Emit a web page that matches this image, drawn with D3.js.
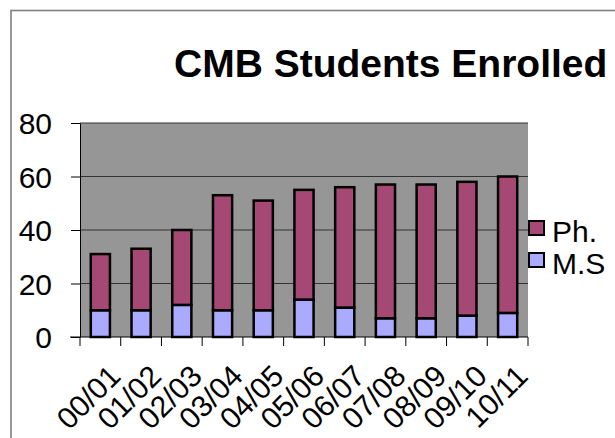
<!DOCTYPE html>
<html lang="en">
<head>
<meta charset="UTF-8">
<title>CMB Students Enrolled</title>
<style>
  body { margin: 0; background: #fff; }
  svg text { font-family: "Liberation Sans", Arial, sans-serif; fill: #000; }
</style>
</head>
<body>
<svg class="chart" width="615" height="438"></svg>
<script src="https://d3js.org/d3.v7.min.js"></script>
<script>
// years on the x axis, students per programme
var years = ["00/01", "01/02", "02/03", "03/04", "04/05", "05/06", "06/07", "07/08", "08/09", "09/10", "10/11"];
var ms  = [10, 10, 12, 10, 10, 14, 11, 7, 7, 8, 9];
var phd = [21, 23, 28, 43, 41, 41, 45, 50, 50, 50, 51];
var yTicks = [0, 20, 40, 60, 80];

var plotLeft = 80, plotRight = 528, plotTop = 123, plotBottom = 337;

var svg = d3.select(".chart");

// outer chart border (runs off the right and bottom of the picture)
svg.append("rect")
    .attr("x", 11).attr("y", 10.5)
    .attr("width", 700).attr("height", 500)
    .attr("fill", "none").attr("stroke", "#808080").attr("stroke-width", 1.6);

svg.append("text")
    .attr("x", 174).attr("y", 77)
    .attr("font-size", 39).attr("font-weight", "bold")
    .text("CMB Students Enrolled");

var x = d3.scaleBand().domain(years).range([plotLeft, plotRight]).paddingInner(0.53).paddingOuter(0.265);
var y = d3.scaleLinear().domain([0, 80]).range([plotBottom, plotTop]);

// plot background
svg.append("rect")
    .attr("x", plotLeft).attr("y", plotTop)
    .attr("width", plotRight - plotLeft).attr("height", plotBottom - plotTop)
    .attr("fill", "#969696");

// gridlines
svg.append("g").selectAll("line")
    .data(yTicks.slice(1))
    .enter().append("line")
    .attr("x1", plotLeft).attr("x2", plotRight)
    .attr("y1", function(d) { return y(d); }).attr("y2", function(d) { return y(d); })
    .attr("stroke", "#333").attr("stroke-width", 1.2);

// y axis
var yAxis = svg.append("g")
    .attr("transform", "translate(" + plotLeft + ",0)")
    .call(d3.axisLeft(y).tickValues(yTicks).tickSize(9).tickPadding(19).tickSizeOuter(0));
yAxis.select(".domain").attr("stroke", "#000");
yAxis.selectAll(".tick line").attr("stroke", "#000");
yAxis.selectAll(".tick text").attr("font-size", 30).attr("dy", "0.36em");

// stacked bars
var stacked = years.map(function(yr, i) { return { year: yr, ms: ms[i], phd: phd[i] }; });
var series = d3.stack().keys(["ms", "phd"])(stacked);
var colors = { ms: "#aaaaff", phd: "#a64874" };

svg.append("g").selectAll("g")
    .data(series)
    .enter().append("g")
    .attr("fill", function(s) { return colors[s.key]; })
    .selectAll("rect")
    .data(function(s) { return s; })
    .enter().append("rect")
    .attr("x", function(d) { return x(d.data.year); })
    .attr("width", x.bandwidth())
    .attr("y", function(d) { return y(d[1]); })
    .attr("height", function(d) { return y(d[0]) - y(d[1]); })
    .attr("stroke", "#000").attr("stroke-width", 2.5);

// x axis: ticks at category boundaries
var step = (plotRight - plotLeft) / years.length;
var xAxis = svg.append("g");
xAxis.append("line")
    .attr("x1", plotLeft - 10).attr("x2", plotRight).attr("y1", plotBottom).attr("y2", plotBottom)
    .attr("stroke", "#000");
xAxis.selectAll(".bt")
    .data(d3.range(years.length + 1))
    .enter().append("line")
    .attr("x1", function(i) { return plotLeft + i * step; })
    .attr("x2", function(i) { return plotLeft + i * step; })
    .attr("y1", plotBottom).attr("y2", plotBottom + 9)
    .attr("stroke", "#000");
xAxis.selectAll("text")
    .data(years)
    .enter().append("text")
    .attr("text-anchor", "end")
    .attr("font-size", 30)
    .attr("transform", function(d) {
        return "translate(" + (x(d) + x.bandwidth() / 2 + 22) + "," + (plotBottom + 41) + ") rotate(-45)";
    })
    .text(function(d) { return d; });

// legend
var legend = svg.append("g").selectAll("g")
    .data([{ key: "phd", label: "Ph." }, { key: "ms", label: "M.S" }])
    .enter().append("g")
    .attr("transform", function(d, i) { return "translate(529," + (221 + i * 32) + ")"; });
legend.append("rect")
    .attr("width", 15).attr("height", 14)
    .attr("fill", function(d) { return colors[d.key]; })
    .attr("stroke", "#000").attr("stroke-width", 2);
legend.append("text")
    .attr("x", 23).attr("y", 21)
    .attr("font-size", 30)
    .text(function(d) { return d.label; });
</script>
</body>
</html>
